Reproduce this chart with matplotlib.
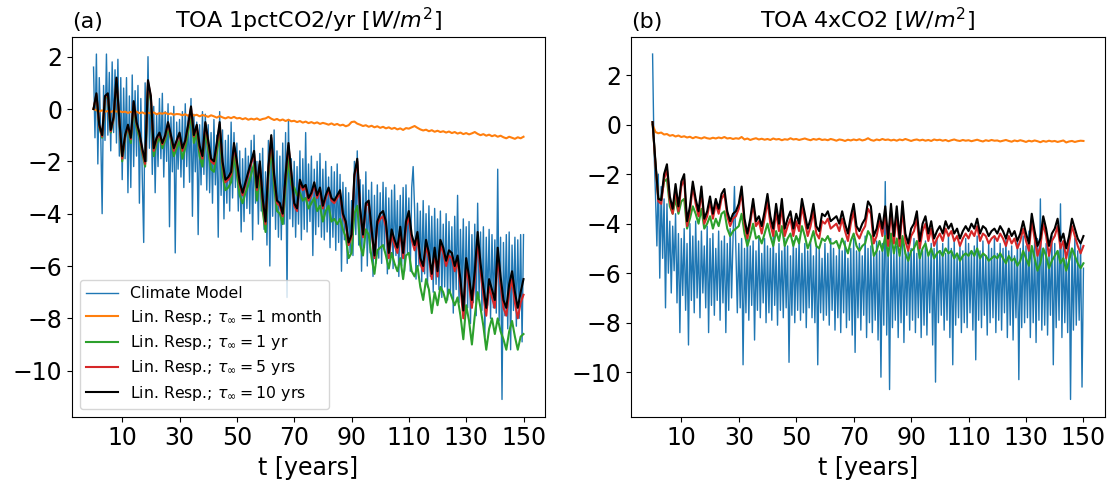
import numpy as np
import matplotlib
matplotlib.use("Agg")
from matplotlib import pyplot as plt

# ---- panel (a): 1pctCO2/yr ----
# climate model, every half year
blue_a = [
    1.6, -1.1, 2.1, -2.1, 1.2, -0.9, -4.0, 0.9, -1.2, 2.1, -1.0, 1.4, -1.6, 1.8, -0.9, 1.5, -1.3, 1.9, -1.8, 1.2,
    -2.7, 0.8, -1.9, 1.2, -3.2, 0.5, -3.0, 1.3, -2.2, 0.7, -1.8, 0.9, -3.6, 0.4, -2.6, -5.1, 1.0, -2.0, 2.0, -1.5,
    0.3, -2.5, 0.1, -3.2, -0.2, -2.2, 0.4, -1.9, 0.6, -2.6, -0.1, -2.0, 0.2, -4.5, -0.3, -2.4, 0.1, -5.5, -0.5, -2.3,
    -0.4, -2.6, -0.1, -3.0, 0.2, -2.2, -0.3, -2.8, 0.4, -4.1, -0.2, -2.4, -0.5, -4.8, -0.6, -2.9, -0.1, -2.5, -0.2, -3.1,
    -0.6, -3.2, -0.9, -3.6, -0.4, -2.9, -1.0, -4.9, -0.1, -3.3, -0.8, -4.2, -1.2, -3.6, -1.0, -3.9, -0.5, -3.4, -0.9, -3.0,
    -1.3, -3.9, -1.6, -4.7, -1.9, -4.3, -1.5, -3.8, -1.8, -4.0, -1.2, -5.0, -1.0, -3.6, -2.0, -4.4, -1.7, -3.9, -1.5, -4.6,
    -2.4, -5.2, -1.2, -6.0, -1.0, -4.1, -0.8, -4.6, -1.6, -4.9, -1.8, -5.0, -1.3, -4.4, -0.9, -7.2, -0.4, -4.2, -1.9, -4.5,
    -2.0, -4.9, -2.2, -4.4, -1.6, -5.0, -1.9, -4.6, -0.9, -4.7, -2.1, -4.3, -1.8, -5.6, -2.3, -4.8, -2.0, -4.5, -1.7, -4.9,
    -2.3, -5.0, -2.0, -4.7, -2.6, -5.3, -2.2, -4.9, -2.4, -5.4, -2.1, -5.1, -2.5, -6.2, -2.8, -5.0, -3.0, -5.9, -3.2, -5.5,
    -3.5, -5.6, -2.0, -4.8, -1.6, -5.2, -2.7, -6.2, -2.9, -5.3, -2.4, -6.0, -3.1, -5.5, -2.8, -6.4, -3.3, -5.9, -2.9, -5.7,
    -3.2, -5.9, -2.8, -5.4, -3.0, -6.3, -3.4, -5.8, -3.1, -6.1, -2.9, -5.6, -3.5, -6.4, -3.3, -6.0, -3.0, -6.2, -2.9, -5.5,
    -3.4, -6.2, -3.0, -2.2, -3.8, -6.5, -3.6, -6.0, -3.9, -6.6, -3.5, -6.3, -4.0, -6.8, -3.7, -6.4, -4.1, -7.0, -3.8, -6.7,
    -4.2, -6.9, -3.9, -7.2, -4.4, -6.8, -4.0, -7.3, -4.3, -7.0, -4.5, -7.8, -4.1, -6.9, -3.3, -7.4, -4.6, -7.1, -4.2, -7.9,
    -4.5, -7.6, -4.3, -8.2, -4.8, -7.4, -4.4, -7.9, -3.6, -7.2, -4.7, -7.7, -4.5, -8.7, -4.9, -7.5, -4.6, -8.0, -4.8, -7.6,
    -5.0, -7.8, -2.3, -8.1, -4.9, -11.1, -5.1, -7.9, -4.8, -8.4, -4.7, -9.2, -5.2, -7.7, -4.9, -8.3, -5.0, -8.0, -4.8, -8.9,
    -4.8,
]
# linear response, yearly
orange_a = [
    0.0, -0.05, -0.1, -0.05, -0.1, -0.08, -0.12, -0.06, -0.1, -0.08,
    -0.12, -0.1, -0.15, -0.11, -0.14, -0.1, -0.16, -0.13, -0.18, -0.14,
    -0.17, -0.13, -0.2, -0.16, -0.18, -0.14, -0.2, -0.17, -0.22, -0.19,
    -0.2, -0.24, -0.2, -0.26, -0.18, -0.25, -0.22, -0.28, -0.23, -0.26,
    -0.3, -0.24, -0.28, -0.33, -0.27, -0.32, -0.36, -0.31, -0.35, -0.3,
    -0.36, -0.34, -0.39, -0.35, -0.41, -0.37, -0.4, -0.36, -0.42, -0.38,
    -0.36, -0.3, -0.37, -0.42, -0.38, -0.44, -0.4, -0.46, -0.41, -0.47,
    -0.45, -0.5, -0.46, -0.52, -0.48, -0.54, -0.5, -0.55, -0.51, -0.57,
    -0.53, -0.56, -0.6, -0.55, -0.61, -0.57, -0.63, -0.6, -0.66, -0.62,
    -0.5, -0.48, -0.56, -0.6, -0.65, -0.62, -0.68, -0.64, -0.7, -0.66,
    -0.72, -0.68, -0.74, -0.7, -0.76, -0.72, -0.78, -0.74, -0.8, -0.73,
    -0.75, -0.7, -0.65, -0.72, -0.78, -0.82, -0.79, -0.85, -0.81, -0.87,
    -0.83, -0.88, -0.85, -0.9, -0.86, -0.92, -0.88, -0.94, -0.9, -0.96,
    -0.92, -0.97, -0.93, -0.88, -0.95, -1.0, -0.96, -1.02, -0.98, -1.04,
    -1.0, -1.06, -1.02, -1.08, -1.12, -1.06, -1.1, -1.14, -1.08, -1.12,
    -1.06,
]
green_a = [
    0.0, 0.5, -0.7, -1.1, 0.4, 0.5, -0.9, -0.4, 1.1, -0.5,
    -2.0, -1.1, -0.7, -1.3, 0.1, -0.7, -1.1, -1.7, -2.2, 0.9,
    0.3, -1.8, -1.3, -1.1, -1.5, -1.2, -0.7, -1.2, -1.8, -1.5,
    -1.2, -1.9, -1.5, -0.9, -0.2, -1.3, -0.9, -1.8, -2.2, -0.8,
    -1.6, -2.3, -2.4, -1.7, -0.9, -2.5, -3.1, -3.0, -2.8, -1.8,
    -2.5, -3.3, -3.6, -3.2, -2.9, -2.5, -2.1, -3.5, -2.5, -3.9,
    -4.7, -2.6, -1.5, -3.0, -3.9, -4.0, -4.4, -3.0, -1.9, -2.9,
    -3.0, -3.3, -3.2, -3.5, -3.4, -3.8, -3.6, -3.4, -3.9, -3.7,
    -4.3, -3.9, -3.7, -4.3, -4.2, -4.4, -4.2, -4.6, -4.9, -5.7,
    -5.5, -4.0, -3.7, -5.2, -5.6, -4.6, -4.8, -5.7, -6.3, -5.4,
    -5.3, -5.2, -5.6, -6.1, -5.5, -5.9, -6.2, -5.7, -6.5, -5.6,
    -5.5, -6.2, -6.4, -6.0, -6.8, -7.3, -6.5, -6.9, -7.8, -7.0,
    -7.5, -6.8, -7.0, -7.4, -6.9, -7.2, -7.5, -7.2, -7.9, -8.8,
    -7.5, -8.1, -9.0, -7.9, -7.0, -7.6, -8.3, -9.2, -8.4, -8.0,
    -8.6, -8.0, -8.5, -8.8, -9.2, -8.5, -8.1, -8.7, -9.2, -8.7,
    -8.6,
]
red_a = [
    0.0, 0.55, -0.65, -1.05, 0.45, 0.55, -0.85, -0.35, 1.15, -0.45,
    -1.9, -1.05, -0.65, -1.15, 0.25, -0.55, -0.95, -1.6, -2.1, 1.05,
    0.45, -1.6, -1.15, -0.95, -1.35, -1.05, -0.55, -1.05, -1.6, -1.25,
    -0.95, -1.6, -1.25, -0.65, 0.05, -1.05, -0.65, -1.5, -1.9, -0.55,
    -1.3, -2.0, -2.1, -1.4, -0.6, -2.1, -2.8, -2.7, -2.5, -1.4,
    -2.1, -2.9, -3.3, -2.9, -2.5, -2.1, -1.7, -3.1, -2.1, -3.5,
    -4.4, -2.3, -1.1, -2.6, -3.6, -3.7, -4.1, -2.6, -1.4, -2.5,
    -3.7, -3.9, -2.8, -3.1, -3.0, -3.5, -3.3, -2.9, -3.4, -3.1,
    -3.8, -3.4, -3.1, -3.5, -3.6, -3.4, -3.2, -4.1, -4.4, -5.2,
    -4.9, -2.6, -2.0, -3.9, -4.9, -3.7, -3.6, -4.7, -5.7, -4.4,
    -4.2, -4.1, -4.5, -5.7, -4.8, -5.2, -5.5, -4.7, -5.7, -4.5,
    -4.1, -5.0, -5.4, -4.9, -5.9, -6.2, -5.2, -5.7, -6.5, -5.5,
    -6.4, -5.2, -5.5, -6.0, -5.6, -5.7, -6.2, -5.8, -6.8, -8.0,
    -6.0, -6.7, -7.6, -6.5, -5.0, -6.2, -7.1, -7.9, -6.8, -7.2,
    -7.6, -5.6, -6.7, -7.6, -7.9, -7.0, -6.5, -7.4, -8.0, -7.4,
    -7.1,
]
black_a = [
    0.0, 0.6, -0.6, -1.0, 0.5, 0.6, -0.8, -0.3, 1.2, -0.4,
    -1.8, -1.0, -0.6, -1.1, 0.3, -0.5, -0.9, -1.5, -2.0, 1.1,
    0.5, -1.5, -1.1, -0.9, -1.3, -1.0, -0.5, -1.0, -1.5, -1.2,
    -0.9, -1.5, -1.2, -0.6, 0.1, -1.0, -0.6, -1.4, -1.8, -0.5,
    -1.2, -1.9, -2.0, -1.3, -0.5, -2.0, -2.7, -2.6, -2.4, -1.3,
    -2.0, -2.8, -3.2, -2.8, -2.4, -2.0, -1.6, -3.0, -2.0, -3.4,
    -4.3, -2.2, -1.0, -2.5, -3.5, -3.6, -4.0, -2.5, -1.3, -2.4,
    -3.6, -3.8, -2.7, -3.0, -2.9, -3.4, -3.2, -2.8, -3.3, -3.0,
    -3.7, -3.3, -3.0, -3.4, -3.5, -3.3, -3.1, -4.0, -4.3, -5.1,
    -4.8, -2.5, -1.9, -3.8, -4.8, -3.6, -3.5, -4.6, -5.6, -4.3,
    -4.0, -3.9, -4.3, -5.5, -4.6, -5.0, -5.3, -4.5, -5.5, -4.3,
    -3.9, -4.8, -5.2, -4.7, -5.7, -6.0, -5.0, -5.5, -6.3, -5.3,
    -6.2, -5.0, -5.3, -5.8, -5.4, -5.5, -6.0, -5.6, -6.5, -7.7,
    -5.7, -6.4, -7.3, -6.2, -4.7, -5.9, -6.8, -7.6, -6.5, -6.9,
    -7.3, -5.3, -6.4, -7.3, -7.6, -6.7, -6.2, -7.0, -7.6, -7.0,
    -6.5,
]

# ---- panel (b): 4xCO2 ----
blue_b = [
    2.85, -1.0, -2.8, -4.9, -2.0, -6.2, -2.5, -5.4, -3.0, -7.4, -3.2, -6.0, -3.9, -6.8, -4.1, -5.9, -3.6, -7.2, -4.4, -8.4,
    -4.6, -6.9, -4.2, -7.5, -4.8, -8.9, -4.0, -7.1, -4.5, -7.6, -3.9, -7.0, -4.7, -7.8, -4.3, -6.8, -4.9, -7.4, -4.1, -8.4,
    -4.6, -7.3, -4.4, -7.7, -5.0, -7.1, -4.3, -7.9, -4.7, -7.2, -4.5, -8.4, -4.8, -7.5, -4.2, -7.0, -4.6, -2.5, -5.1, -7.6,
    -4.8, -7.4, -4.6, -9.7, -5.0, -7.6, -4.4, -7.9, -4.9, -7.3, -4.7, -8.7, -5.1, -7.5, -4.5, -7.8, -5.2, -7.2, -4.6, -8.0,
    -4.9, -7.6, -5.0, -7.9, -4.5, -7.3, -5.2, -8.1, -4.8, -7.5, -5.1, -7.8, -4.6, -7.4, -4.9, -9.6, -5.3, -7.7, -4.7, -8.0,
    -5.0, -7.5, -4.6, -7.9, -5.2, -7.6, -4.8, -8.2, -5.1, -7.4, -4.7, -7.8, -5.3, -8.0, -4.9, -9.7, -5.0, -7.6, -5.4, -7.9,
    -4.8, -7.7, -5.2, -8.1, -4.6, -7.5, -5.0, -8.3, -5.3, -7.8, -4.9, -8.4, -5.1, -7.6, -4.7, -8.2, -5.4, -7.9, -5.0, -8.5,
    -4.6, -9.2, -5.1, -7.8, -4.8, -8.3, -5.3, -7.7, -4.5, -8.6, -5.0, -8.0, -4.9, -8.4, -5.2, -7.9, -4.7, -8.7, -5.1, -10.2,
    -4.8, -8.1, -2.3, -8.5, -5.0, -10.7, -4.6, -8.2, -5.2, -7.9, -4.9, -8.6, -5.3, -8.0, -4.7, -8.8, -5.1, -7.7, -4.8, -8.3,
    -5.0, -7.9, -4.6, -8.4, -5.2, -7.8, -4.9, -8.6, -5.1, -8.1, -4.7, -8.5, -5.3, -7.6, -4.8, -8.9, -5.0, -10.4, -4.6, -8.0,
    -5.1, -7.7, -4.8, -8.3, -5.2, -7.9, -4.5, -8.6, -5.0, -9.7, -4.7, -8.1, -5.3, -7.8, -4.9, -8.4, -5.1, -8.0, -4.6, -8.2,
    -4.8, -7.6, -5.2, -8.3, -4.9, -9.5, -4.5, -7.9, -5.1, -8.2, -4.7, -7.7, -5.3, -8.5, -4.8, -8.0, -5.0, -7.8, -4.6, -8.4,
    -5.2, -7.9, -4.8, -8.3, -5.0, -7.6, -4.6, -8.6, -5.1, -8.1, -4.9, -8.7, -5.3, -7.8, -4.7, -10.3, -5.0, -8.2, -4.5, -8.0,
    -4.9, -7.8, -4.3, -8.6, -5.1, -8.0, -4.7, -8.8, -4.6, -7.9, -3.0, -8.3, -5.0, -8.1, -4.8, -8.5, -5.2, -7.7, -4.5, -9.7,
    -4.8, -8.2, -5.1, -7.9, -3.2, -8.6, -4.9, -8.0, -5.2, -8.4, -4.7, -11.1, -5.0, -8.3, -4.6, -8.1, -5.1, -7.9, -4.8, -10.6,
    -5.8,
]
orange_b = [
    0.0, -0.3, -0.35, -0.32, -0.4, -0.38, -0.45, -0.42, -0.48, -0.44,
    -0.5, -0.47, -0.52, -0.49, -0.55, -0.5, -0.53, -0.56, -0.51, -0.55,
    -0.57, -0.53, -0.56, -0.52, -0.55, -0.5, -0.56, -0.54, -0.58, -0.55,
    -0.57, -0.5, -0.6, -0.56, -0.62, -0.58, -0.55, -0.6, -0.57, -0.61,
    -0.58, -0.62, -0.56, -0.6, -0.58, -0.63, -0.59, -0.61, -0.55, -0.6,
    -0.58, -0.62, -0.59, -0.56, -0.6, -0.63, -0.58, -0.61, -0.57, -0.62,
    -0.6, -0.63, -0.58, -0.61, -0.65, -0.6, -0.62, -0.66, -0.61, -0.64,
    -0.6, -0.63, -0.59, -0.64, -0.61, -0.55, -0.62, -0.65, -0.6, -0.63,
    -0.58, -0.62, -0.6, -0.64, -0.61, -0.65, -0.6, -0.63, -0.58, -0.62,
    -0.66, -0.62, -0.6, -0.64, -0.61, -0.65, -0.62, -0.66, -0.6, -0.63,
    -0.61, -0.65, -0.62, -0.67, -0.63, -0.6, -0.64, -0.66, -0.62, -0.65,
    -0.63, -0.67, -0.64, -0.61, -0.65, -0.68, -0.63, -0.66, -0.62, -0.65,
    -0.64, -0.68, -0.65, -0.62, -0.66, -0.69, -0.64, -0.67, -0.63, -0.66,
    -0.7, -0.65, -0.68, -0.64, -0.67, -0.71, -0.66, -0.69, -0.65, -0.68,
    -0.66, -0.7, -0.67, -0.64, -0.72, -0.68, -0.66, -0.7, -0.67, -0.65,
    -0.66,
]
green_b = [
    0.1, -1.6, -3.0, -3.0, -2.3, -2.2, -3.3, -3.6, -3.0, -3.6,
    -3.1, -3.0, -4.2, -3.8, -3.3, -3.6, -4.0, -3.4, -4.2, -4.0,
    -3.7, -4.2, -3.8, -4.1, -3.6, -3.5, -4.2, -4.5, -4.3, -4.2,
    -4.1, -3.6, -4.4, -4.9, -4.5, -4.0, -4.6, -4.5, -4.8, -4.4,
    -4.0, -4.5, -4.9, -4.3, -4.7, -4.1, -4.9, -4.6, -4.4, -4.9,
    -4.5, -4.8, -4.1, -4.5, -5.0, -4.7, -4.3, -4.9, -5.0, -4.6,
    -4.7, -4.5, -4.8, -4.8, -4.7, -5.0, -4.6, -4.9, -5.2, -4.7,
    -4.4, -4.9, -5.1, -4.9, -4.8, -4.3, -4.5, -5.3, -5.1, -4.7,
    -5.1, -4.5, -5.3, -4.4, -5.2, -4.6, -5.3, -4.5, -5.2, -5.5,
    -5.1, -5.0, -4.7, -5.4, -5.0, -4.8, -5.3, -5.0, -5.4, -5.2,
    -5.1, -5.3, -5.0, -5.2, -5.1, -5.4, -5.2, -5.5, -5.3, -5.2,
    -5.3, -5.1, -5.3, -5.0, -5.4, -5.2, -5.3, -5.5, -5.4, -5.3,
    -5.4, -5.2, -5.4, -5.6, -5.3, -5.5, -5.4, -5.7, -5.5, -5.1,
    -5.4, -5.7, -4.9, -5.4, -5.9, -5.6, -5.0, -5.3, -5.8, -5.5,
    -5.3, -5.1, -5.6, -5.4, -5.9, -5.5, -5.0, -5.3, -5.6, -5.8,
    -5.6,
]
red_b = [
    0.1, -1.6, -3.1, -3.2, -2.2, -1.8, -3.1, -3.6, -2.6, -3.5,
    -2.5, -2.2, -4.1, -3.5, -2.5, -3.2, -3.7, -2.7, -4.0, -3.7,
    -3.1, -3.8, -3.2, -3.6, -3.0, -2.8, -3.7, -4.1, -3.8, -3.7,
    -3.4, -2.7, -4.0, -4.6, -4.0, -3.2, -4.1, -3.9, -4.4, -3.8,
    -3.1, -4.0, -4.5, -3.5, -4.3, -3.3, -4.5, -4.1, -3.8, -4.5,
    -3.9, -4.3, -3.3, -3.9, -4.5, -4.1, -3.5, -4.4, -4.6, -3.9,
    -4.0, -3.8, -4.2, -4.1, -4.0, -4.3, -3.8, -4.3, -4.7, -4.0,
    -3.5, -4.4, -4.6, -4.3, -4.1, -3.4, -3.6, -4.8, -4.5, -3.9,
    -4.5, -3.6, -4.9, -3.5, -4.8, -3.6, -4.9, -3.4, -4.7, -5.1,
    -4.5, -4.3, -3.8, -5.0, -4.3, -4.0, -4.7, -4.2, -4.9, -4.6,
    -4.4, -4.7, -4.2, -4.5, -4.3, -4.7, -4.5, -4.9, -4.6, -4.4,
    -4.6, -4.3, -4.5, -4.1, -4.7, -4.4, -4.5, -4.8, -4.6, -4.5,
    -4.7, -4.4, -4.6, -4.9, -4.5, -4.8, -4.6, -5.0, -4.7, -4.2,
    -4.7, -5.1, -3.9, -4.6, -5.3, -4.9, -4.0, -4.5, -5.3, -4.7,
    -4.5, -4.1, -5.0, -4.7, -5.4, -4.8, -4.1, -4.5, -4.9, -5.2,
    -4.9,
]
black_b = [
    0.1, -1.5, -3.0, -3.05, -2.0, -1.6, -2.9, -3.4, -2.4, -3.3,
    -2.3, -2.0, -3.9, -3.3, -2.3, -3.0, -3.5, -2.5, -3.8, -3.5,
    -2.9, -3.6, -3.0, -3.4, -2.8, -2.6, -3.5, -3.9, -3.6, -3.5,
    -3.2, -2.5, -3.8, -4.4, -3.8, -3.0, -3.9, -3.7, -4.1, -3.5,
    -2.8, -3.7, -4.2, -3.2, -4.0, -3.0, -4.2, -3.8, -3.5, -4.2,
    -3.6, -4.0, -3.0, -3.6, -4.2, -3.8, -3.2, -4.1, -4.3, -3.6,
    -3.7, -3.5, -3.9, -3.8, -3.7, -4.0, -3.5, -4.0, -4.4, -3.7,
    -3.2, -4.1, -4.3, -4.0, -3.8, -3.1, -3.3, -4.5, -4.2, -3.6,
    -4.2, -3.3, -4.6, -3.2, -4.5, -3.3, -4.6, -3.1, -4.4, -4.8,
    -4.2, -4.0, -3.5, -4.7, -4.0, -3.7, -4.4, -3.9, -4.6, -4.3,
    -4.1, -4.4, -3.9, -4.2, -4.0, -4.4, -4.2, -4.6, -4.3, -4.1,
    -4.3, -4.0, -4.2, -3.8, -4.4, -4.1, -4.2, -4.5, -4.3, -4.2,
    -4.4, -4.1, -4.3, -4.6, -4.2, -4.5, -4.3, -4.7, -4.4, -3.9,
    -4.4, -4.8, -3.6, -4.3, -4.9, -4.6, -3.7, -4.2, -4.9, -4.4,
    -4.2, -3.8, -4.7, -4.4, -5.0, -4.5, -3.8, -4.2, -4.6, -4.8,
    -4.5,
]

labels = ['Climate Model',
          r'Lin. Resp.; $\tau_{\infty} = 1$ month',
          r'Lin. Resp.; $\tau_{\infty} = 1$ yr',
          r'Lin. Resp.; $\tau_{\infty} = 5$ yrs',
          r'Lin. Resp.; $\tau_{\infty} = 10$ yrs']
colors = ['tab:blue', 'tab:orange', 'tab:green', 'tab:red', 'black']
xticks = [10, 30, 50, 70, 90, 110, 130, 150]


def draw(ax, blue, orange, green, red, black):
    t_half = np.arange(len(blue)) * 0.5
    t_year = np.arange(len(black))
    ax.plot(t_half, blue, color=colors[0], lw=1.0, label=labels[0])
    for s, c, lab in zip([orange, green, red, black], colors[1:], labels[1:]):
        ax.plot(t_year, s, color=c, lw=1.5, label=lab)
    ax.set_xticks(xticks)
    ax.set_xlabel('t [years]', fontsize=17)
    ax.tick_params(labelsize=17)


fig = plt.figure(figsize=(11.1, 4.84), dpi=100)
ax1 = fig.add_axes([0.0649, 0.139, 0.4261, 0.785])
ax2 = fig.add_axes([0.5685, 0.139, 0.4270, 0.785])

draw(ax1, blue_a, orange_a, green_a, red_a, black_a)
draw(ax2, blue_b, orange_b, green_b, red_b, black_b)

ax1.set_title(r'TOA 1pctCO2/yr [$W/m^2$]', fontsize=16)
ax1.set_title('(a)', loc='left', fontsize=16)
ax2.set_title(r'TOA 4xCO2 [$W/m^2$]', fontsize=16)
ax2.set_title('(b)', loc='left', fontsize=16)

ax1.legend(loc='lower left', fontsize=11.3, labelspacing=0.4)

fig.savefig('out.png', dpi=100)
